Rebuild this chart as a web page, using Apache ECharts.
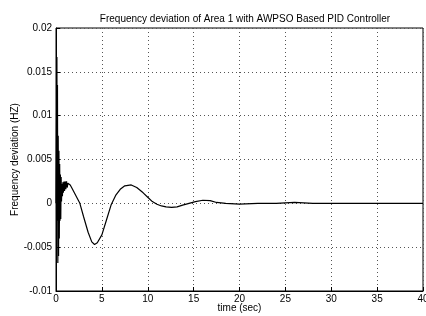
<!DOCTYPE html>
<html>
<head>
<meta charset="utf-8">
<script src="https://cdn.jsdelivr.net/npm/echarts@6/dist/echarts.min.js"></script>
<style>
  html, body { margin: 0; padding: 0; background: #fff; }
  #chart { width: 426px; height: 316px; }
</style>
</head>
<body>
<div id="chart"></div>
<script>
// time (sec) and frequency deviation (Hz)
const timeSec = [
  0, 0.1, 0.13, 0.16, 0.2, 0.24, 0.28, 0.32, 0.36, 0.4, 0.44, 0.48, 0.52, 0.56, 0.6,
  0.65, 0.7, 0.75, 0.8, 0.87, 0.93, 1.0, 1.07, 1.15, 1.22, 1.3, 1.4, 1.55, 1.7, 2.0,
  2.3, 2.6, 3.0, 3.5, 3.9, 4.2, 4.5, 5.0, 5.5, 6.0, 6.5, 7.0, 7.5, 8.2, 8.8, 9.5,
  10.0, 10.5, 11.0, 11.5, 12.0, 12.6, 13.2, 13.8, 14.5, 15.2, 16.0, 16.8, 17.5, 18.5,
  20, 22, 24, 26, 28, 30, 32, 34, 36, 38, 40
]
const freqDev = [
  0, 0.0167, -0.002, 0.0135, -0.0068, 0.0077, -0.006, 0.006, -0.004, 0.0045, -0.002, 0.0033, -0.0018, 0.003, 0.0002,
  0.0022, 0.0008, 0.0024, 0.0012, 0.0025, 0.0014, 0.0025, 0.0016, 0.0025, 0.0018, 0.0023, 0.0021, 0.0021, 0.0018, 0.0012,
  0.0006, 0.0, -0.0015, -0.0033, -0.0044, -0.0047, -0.0045, -0.0036, -0.0019, -0.0002, 0.0009, 0.0016, 0.002, 0.0021, 0.0018, 0.0012,
  0.0007, 0.0002, -0.0001, -0.0003, -0.0004, -0.00045, -0.0004, -0.0002, 0.0, 0.0002, 0.00035, 0.0003, 0.0001, 0.0,
  -0.0001, 0.0, 0.0, 0.0001, 0.0, 0.0, 0.0, 0.0, 0.0, 0.0, 0.0
]

const xTicks = [0, 5, 10, 15, 20, 25, 30, 35, 40]
const yTickLabels = ['-0.01', '-0.005', '0', '0.005', '0.01', '0.015', '0.02']

const chart = echarts.init(document.getElementById('chart'))

const fontFamily = 'Liberation Sans, Arial, sans-serif'
const gridLine = { show: true, lineStyle: { color: '#555', type: [1, 3], width: 1 } }

chart.setOption({
  animation: false,
  title: {
    text: 'Frequency deviation of Area 1 with AWPSO Based PID Controller',
    left: 240,
    top: 9,
    textAlign: 'center',
    textStyle: { fontFamily, fontSize: 10, fontWeight: 'normal', color: '#000' }
  },
  grid: {
    left: 56, right: 3, top: 28, bottom: 25,
    outerBoundsMode: 'none',
    containLabel: false,
    show: true, borderColor: '#000', borderWidth: 1
  },
  xAxis: {
    type: 'value',
    min: 0, max: 40, interval: 5,
    name: 'time (sec)',
    nameLocation: 'middle',
    nameGap: 12,
    nameMoveOverlap: false,
    nameTextStyle: { fontFamily, fontSize: 10, color: '#000' },
    axisLine: { onZero: false, lineStyle: { color: '#000' } },
    axisTick: { inside: true, length: 4, lineStyle: { color: '#000' } },
    axisLabel: {
      fontFamily, fontSize: 10, color: '#000', margin: 3,
      formatter: v => xTicks.includes(v) ? String(v) : ''
    },
    splitLine: gridLine
  },
  yAxis: {
    type: 'value',
    min: -0.01, max: 0.02, interval: 0.005,
    name: 'Frequency deviation (HZ)',
    nameLocation: 'middle',
    nameGap: 36,
    nameMoveOverlap: false,
    nameTextStyle: { fontFamily, fontSize: 10, color: '#000' },
    axisLine: { show: true, onZero: false, lineStyle: { color: '#000' } },
    axisTick: { show: true, inside: true, length: 4, lineStyle: { color: '#000' } },
    axisLabel: {
      fontFamily, fontSize: 10, color: '#000', margin: 4,
      formatter: v => yTickLabels[Math.round((v + 0.01) / 0.005)]
    },
    splitLine: gridLine
  },
  series: [{
    type: 'line',
    data: timeSec.map((t, i) => [t, freqDev[i]]),
    showSymbol: false,
    lineStyle: { color: '#000', width: 1.2 },
    clip: true
  }]
})
</script>
</body>
</html>
